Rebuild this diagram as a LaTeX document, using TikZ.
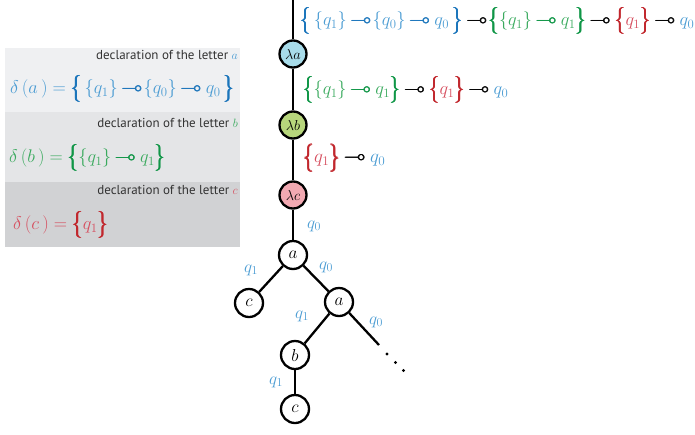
\documentclass[tikz,border=0pt]{standalone}
\usepackage{amsmath,amssymb}
\usepackage{fontspec}
\usepackage{graphicx}
\newfontfamily\declfont{PT Sans}
\definecolor{bd}{HTML}{1B75BB}
\definecolor{bl}{HTML}{4B9CD3}
\definecolor{gd}{HTML}{109647}
\definecolor{gl}{HTML}{3AAA5E}
\definecolor{rd}{HTML}{C1272D}
\definecolor{rl}{HTML}{D64F5F}
\definecolor{pa}{HTML}{EFF0F2}
\definecolor{pb}{HTML}{E4E5E7}
\definecolor{pc}{HTML}{D1D2D4}
\definecolor{lamA}{HTML}{A8DCEA}
\definecolor{lamB}{HTML}{B7D67C}
\definecolor{lamC}{HTML}{F2A9B2}
\definecolor{dtext}{HTML}{333333}
\newcommand{\BL}{\mathopen{\vcenter{\hbox{\pmb{\scalebox{1.15}[1.45]{$\{$}}}}}}
\newcommand{\BR}{\mathclose{\vcenter{\hbox{\pmb{\scalebox{1.15}[1.45]{$\}$}}}}}}
\newcommand{\mm}{\mathord{\mkern4mu\pmb{\multimap}\mkern1mu}}
\newcommand{\fit}[2]{\resizebox{#1pt}{!}{#2}}
\begin{document}
\begin{tikzpicture}[x=1pt,y=-1pt,
  circ/.style={circle,draw=black,line width=2.3pt,minimum size=28pt,inner sep=0pt,font=\fontsize{19}{20}\selectfont},
  lam/.style={circle,draw=black,line width=2.3pt,minimum size=27pt,inner sep=0pt,font=\fontsize{13.5}{15}\selectfont},
  edge/.style={line width=2.3pt,black},
  elab/.style={text=bl,font=\fontsize{17.5}{18}\selectfont,inner sep=0pt},
  decl/.style={anchor=east,inner sep=0pt,text=dtext,font=\declfont\fontsize{13}{14}\selectfont},
  formula/.style={anchor=west,inner sep=0pt,font=\fontsize{21}{24}\selectfont}]
\useasboundingbox (0,0) rectangle (695,434);
% panels
\fill[pa] (5,48) rectangle (240,112);
\fill[pb] (5,112) rectangle (240,182);
\fill[pc] (5,182) rectangle (240,247);
\node[decl] (da) at (238,55) {declaration of the letter \textcolor{bl}{$a$}};
\node[decl] (db) at (238,123) {declaration of the letter \textcolor{gl}{$b$}};
\node[decl] (dc) at (238,190) {declaration of the letter \textcolor{rl}{$c$}};
\node[formula] (fa) at (10,89) {\fit{224}{$\color{bl}\delta\,(a\,)=\color{bd}\BL\,\color{bl}\{q_1\}\color{bd}\mm\color{bl}\{q_0\}\color{bd}\mm\,\color{bl}q_0\,\color{bd}\BR$}};
\node[formula] (fb) at (9,158) {\fit{156}{$\color{gl}\delta\,(b\,)=\color{gd}\BL\color{gl}\{q_1\}\color{gd}\mm\,\color{gl}q_1\color{gd}\BR$}};
\node[formula] (fc) at (13,225) {\fit{95}{$\color{rl}\delta\,(c\,)=\color{rd}\BL\color{rl}q_1\color{rd}\BR$}};
% right formulas
\node[formula] (t1) at (300,21) {\fit{394}{$\color{bd}\BL\,\color{bl}\{q_1\}\color{bd}\mm\color{bl}\{q_0\}\color{bd}\mm\,\color{bl}q_0\,\color{bd}\BR\color{black}\mm\color{gd}\BL\color{gl}\{q_1\}\color{gd}\mm\,\color{gl}q_1\color{gd}\BR\color{black}\mm\,\color{rd}\BL\color{rl}q_1\color{rd}\BR\color{black}\mm\,\color{bl}q_0$}};
\node[formula] (t2) at (303,90) {\fit{205}{$\color{gd}\BL\color{gl}\{q_1\}\color{gd}\mm\,\color{gl}q_1\color{gd}\BR\color{black}\mm\,\color{rd}\BL\color{rl}q_1\color{rd}\BR\color{black}\mm\,\color{bl}q_0$}};
\node[formula] (t3) at (303,158) {\fit{82}{$\color{rd}\BL\color{rl}q_1\color{rd}\BR\color{black}\mm\,\color{bl}q_0$}};
% spine
\coordinate (top) at (293,0);
\node[lam,fill=lamA] (la) at (293,54) {$\lambda a$};
\node[lam,fill=lamB] (lb) at (293,125) {$\lambda b$};
\node[lam,fill=lamC] (lc) at (293,195) {$\lambda c$};
\node[circ] (n1) at (293,255) {$a$};
\node[circ] (n2) at (249,303) {$c$};
\node[circ] (n3) at (339,302) {$a$};
\node[circ] (n4) at (295,355) {$b$};
\node[circ] (n5) at (295,409) {$c$};
\coordinate (end) at (379,345);
\draw[edge] (top) -- (la);
\draw[edge] (la) -- (lb);
\draw[edge] (lb) -- (lc);
\draw[edge] (lc) -- (n1);
\draw[edge] (n1) -- (n2);
\draw[edge] (n1) -- (n3);
\draw[edge] (n3) -- (n4);
\draw[edge] (n4) -- (n5);
\draw[edge] (n3) -- (end);
\fill (387,354) circle (1.6pt);
\fill (395.5,362.5) circle (1.6pt);
\fill (403.5,370.5) circle (1.6pt);
% edge labels
\node[elab] (e0) at (314,226) {$q_0$};
\node[elab] (e1) at (251,270) {$q_1$};
\node[elab] (e2) at (326,267) {$q_0$};
\node[elab] (e3) at (302,316) {$q_1$};
\node[elab] (e4) at (376,322) {$q_0$};
\node[elab] (e5) at (276,382) {$q_1$};
\end{tikzpicture}
\end{document}
